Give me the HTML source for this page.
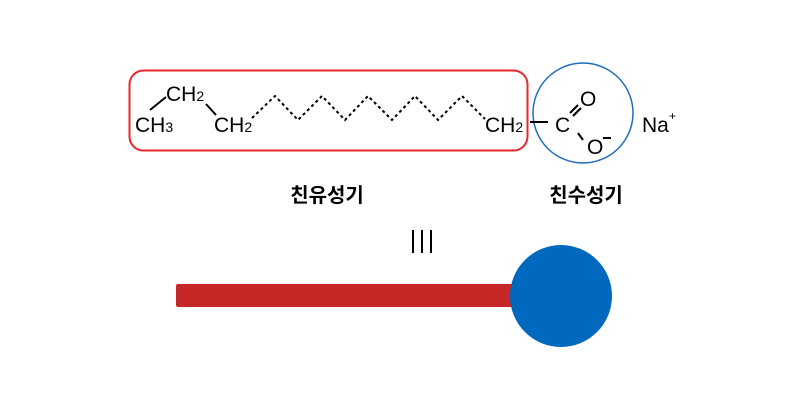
<!DOCTYPE html>
<html><head><meta charset="utf-8"><style>
html,body{margin:0;padding:0;background:#fff;}
svg text{font-family:"Liberation Sans","Noto Sans CJK KR",sans-serif;}
</style></head><body>
<svg width="800" height="400" viewBox="0 0 800 400" xmlns="http://www.w3.org/2000/svg">
<rect x="129.5" y="70.5" width="398" height="80" rx="14" fill="none" stroke="#e8262b" stroke-width="2"/>
<circle cx="583" cy="113" r="50" fill="none" stroke="#1f6dbf" stroke-width="1.5"/>
<g font-size="21" fill="#000">
<text x="166" y="101">CH<tspan font-size="14">2</tspan></text>
<text x="135" y="132">CH<tspan font-size="14">3</tspan></text>
<text x="214" y="132">CH<tspan font-size="14">2</tspan></text>
<text x="485" y="132">CH<tspan font-size="14">2</tspan></text>
<text x="555" y="132">C</text>
<text x="580" y="106">O</text>
<text x="587" y="154">O</text>
<text x="642" y="132">Na</text>
</g>
<text x="669" y="120" font-size="12">+</text>
<line x1="603" y1="138" x2="611" y2="138" stroke="#000" stroke-width="2"/>
<g stroke="#000" stroke-width="2" fill="none">
<line x1="150" y1="110" x2="166" y2="97"/>
<line x1="206" y1="104" x2="216" y2="115"/>
<line x1="530" y1="122" x2="548" y2="122"/>
<line x1="570" y1="113" x2="578" y2="105"/>
<line x1="573" y1="116" x2="581" y2="108"/>
<line x1="583" y1="140" x2="578" y2="133"/>
</g>
<polyline points="252,118 275,96 298,120 322,96 345,120 368,96 392,120 415,96 438,120 462,96 485,119" fill="none" stroke="#000" stroke-width="2" stroke-dasharray="3,3"/>
<text x="327" y="202" font-size="20" font-weight="bold" text-anchor="middle">친유성기</text>
<text x="586" y="202" font-size="20" font-weight="bold" text-anchor="middle">친수성기</text>
<g stroke="#000" stroke-width="2"><line x1="413" y1="230" x2="413" y2="253"/><line x1="422" y1="230" x2="422" y2="253"/><line x1="431" y1="230" x2="431" y2="253"/></g>
<rect x="176" y="284" width="350" height="23" rx="2" fill="#c62828"/>
<circle cx="561" cy="296" r="51" fill="#0068bd"/>
</svg>
</body></html>
